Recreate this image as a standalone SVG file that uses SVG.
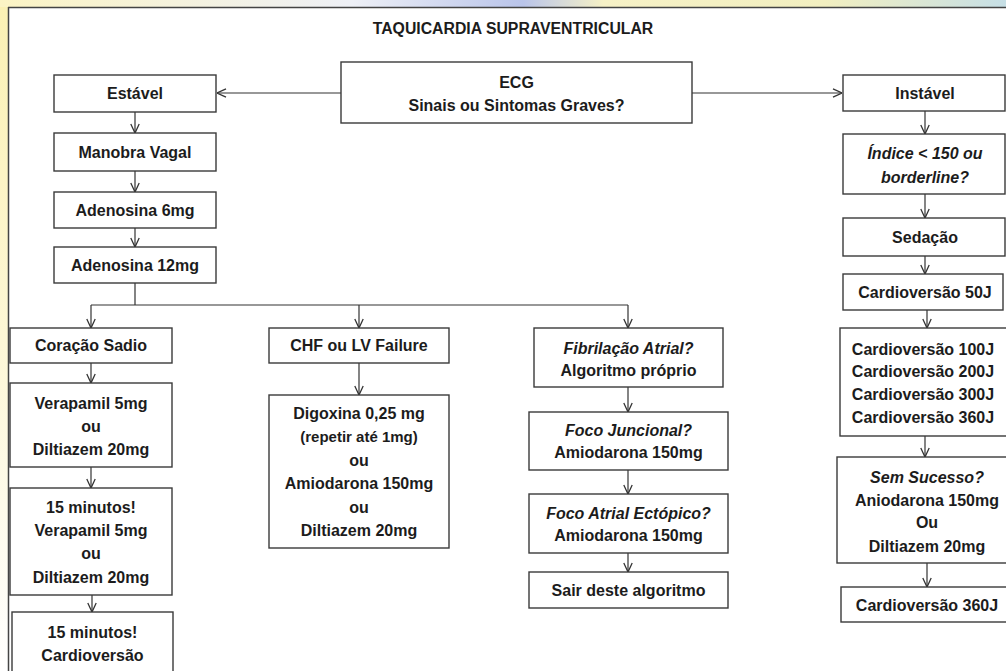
<svg xmlns="http://www.w3.org/2000/svg" width="1006" height="671" viewBox="0 0 1006 671">
<defs>
<linearGradient id="topbg" x1="0" y1="0" x2="1" y2="0">
<stop offset="0" stop-color="#fcf4c4"/>
<stop offset="0.35" stop-color="#eef0f6"/>
<stop offset="0.52" stop-color="#b9c4ea"/>
<stop offset="0.6" stop-color="#f6f1c6"/>
<stop offset="0.82" stop-color="#f2efc0"/>
<stop offset="1" stop-color="#c6dfe6"/>
</linearGradient>
<linearGradient id="leftbg" x1="0" y1="0" x2="0" y2="1">
<stop offset="0" stop-color="#fbf1b4"/>
<stop offset="0.5" stop-color="#fdf7d6"/>
<stop offset="1" stop-color="#ffffff"/>
</linearGradient>
<marker id="ah" viewBox="0 0 10 10" refX="10" refY="5" markerWidth="10" markerHeight="10" markerUnits="userSpaceOnUse" orient="auto">
<path d="M1,0.8 L10,5 L1,9.2" fill="none" stroke="#333" stroke-width="1.3"/>
</marker>
</defs>
<style>
.box{fill:#fff;stroke:#3a3a3a;stroke-width:1.4}
.t{font-family:"Liberation Sans",Arial,sans-serif;font-size:16px;font-weight:bold;fill:#1c1c1c;text-anchor:middle}
.i{font-style:italic}
.c{fill:none;stroke:#333;stroke-width:1.2}
.ca{fill:none;stroke:#333;stroke-width:1.2;marker-end:url(#ah)}
</style>
<rect x="0" y="0" width="1006" height="671" fill="#fff"/>
<rect x="0" y="0" width="1006" height="7" fill="url(#topbg)"/>
<rect x="0" y="7" width="8" height="664" fill="url(#leftbg)"/>
<path d="M8,7.5 H1006 M8.5,7 V671" fill="none" stroke="#444" stroke-width="1.5"/>
<text class="t" x="513" y="34" style="font-size:15.8px">TAQUICARDIA SUPRAVENTRICULAR</text>

<g id="connectors">
<path class="ca" d="M341,93 H217"/>
<path class="ca" d="M692,93 H842"/>
<path class="ca" d="M135,112 V133"/>
<path class="ca" d="M135,171 V192"/>
<path class="ca" d="M135,228 V247"/>
<path class="c" d="M135,283 V305 M91,305 H628"/>
<path class="ca" d="M91,305 V328"/>
<path class="ca" d="M359,305 V328"/>
<path class="ca" d="M628,305 V328"/>
<path class="ca" d="M91,363 V383"/>
<path class="ca" d="M91,467 V488"/>
<path class="ca" d="M92,595 V612"/>
<path class="ca" d="M359,363 V395"/>
<path class="ca" d="M628,387 V412"/>
<path class="ca" d="M628,470 V494"/>
<path class="ca" d="M628,553 V572"/>
<path class="ca" d="M925,111 V134"/>
<path class="ca" d="M925,194 V218"/>
<path class="ca" d="M925,256 V274"/>
<path class="ca" d="M927,310 V328"/>
<path class="ca" d="M925,436 V457"/>
<path class="ca" d="M927,563 V587"/>
</g>

<g id="ecg"><rect class="box" x="341" y="62" width="351" height="61"/>
<text class="t" x="516.5" y="88">ECG</text>
<text class="t" x="516.5" y="111">Sinais ou Sintomas Graves?</text></g>

<g id="estavel"><rect class="box" x="54" y="75" width="162" height="37"/>
<text class="t" x="135" y="99">Estável</text></g>
<g id="manobra"><rect class="box" x="54" y="133" width="162" height="38"/>
<text class="t" x="135" y="158">Manobra Vagal</text></g>
<g id="aden6"><rect class="box" x="54" y="192" width="162" height="36"/>
<text class="t" x="135" y="216">Adenosina 6mg</text></g>
<g id="aden12"><rect class="box" x="54" y="247" width="162" height="36"/>
<text class="t" x="135" y="271">Adenosina 12mg</text></g>

<g id="sadio"><rect class="box" x="10" y="328" width="162" height="35"/>
<text class="t" x="91" y="351">Coração Sadio</text></g>
<g id="verapamil"><rect class="box" x="10" y="383" width="162" height="84"/>
<text class="t" x="91" y="409">Verapamil 5mg</text>
<text class="t" x="91" y="432">ou</text>
<text class="t" x="91" y="455">Diltiazem 20mg</text></g>
<g id="min15a"><rect class="box" x="10" y="488" width="162" height="107"/>
<text class="t" x="91" y="513">15 minutos!</text>
<text class="t" x="91" y="536">Verapamil 5mg</text>
<text class="t" x="91" y="559">ou</text>
<text class="t" x="91" y="583">Diltiazem 20mg</text></g>
<g id="min15b"><rect class="box" x="12" y="612" width="161" height="70"/>
<text class="t" x="92.5" y="638">15 minutos!</text>
<text class="t" x="92.5" y="661">Cardioversão</text></g>

<g id="chf"><rect class="box" x="269" y="328" width="180" height="35"/>
<text class="t" x="359" y="351">CHF ou LV Failure</text></g>
<g id="digoxina"><rect class="box" x="269" y="395" width="180" height="153"/>
<text class="t" x="359" y="419">Digoxina 0,25 mg</text>
<text class="t" x="359" y="442" style="font-size:15px">(repetir até 1mg)</text>
<text class="t" x="359" y="466">ou</text>
<text class="t" x="359" y="489">Amiodarona 150mg</text>
<text class="t" x="359" y="513">ou</text>
<text class="t" x="359" y="536">Diltiazem 20mg</text></g>

<g id="fibrilacao"><rect class="box" x="534" y="328" width="189" height="59"/>
<text class="t i" x="628.5" y="354">Fibrilação Atrial?</text>
<text class="t" x="628.5" y="376">Algoritmo próprio</text></g>
<g id="juncional"><rect class="box" x="529" y="412" width="199" height="58"/>
<text class="t i" x="628.5" y="436">Foco Juncional?</text>
<text class="t" x="628.5" y="458">Amiodarona 150mg</text></g>
<g id="ectopico"><rect class="box" x="529" y="494" width="199" height="59"/>
<text class="t i" x="628.5" y="519">Foco Atrial Ectópico?</text>
<text class="t" x="628.5" y="541">Amiodarona 150mg</text></g>
<g id="sair"><rect class="box" x="529" y="572" width="199" height="36"/>
<text class="t" x="628.5" y="596">Sair deste algoritmo</text></g>

<g id="instavel"><rect class="box" x="843" y="75" width="162" height="36"/>
<text class="t" x="925" y="99">Instável</text></g>
<g id="indice"><rect class="box" x="843" y="134" width="162" height="60"/>
<text class="t i" x="925" y="159">Índice &lt; 150 ou</text>
<text class="t i" x="925" y="183">borderline?</text></g>
<g id="sedacao"><rect class="box" x="843" y="218" width="162" height="38"/>
<text class="t" x="925" y="243">Sedação</text></g>
<g id="cardio50"><rect class="box" x="843" y="274" width="160" height="36"/>
<text class="t" x="925" y="298">Cardioversão 50J</text></g>
<g id="cardio100"><rect class="box" x="840" y="328" width="170" height="108"/>
<text class="t" x="923" y="355">Cardioversão 100J</text>
<text class="t" x="923" y="377">Cardioversão 200J</text>
<text class="t" x="923" y="400">Cardioversão 300J</text>
<text class="t" x="923" y="423">Cardioversão 360J</text></g>
<g id="semsucesso"><rect class="box" x="837" y="457" width="173" height="106"/>
<text class="t i" x="927" y="483">Sem Sucesso?</text>
<text class="t" x="927" y="506">Aniodarona 150mg</text>
<text class="t" x="927" y="528">Ou</text>
<text class="t" x="927" y="552">Diltiazem 20mg</text></g>
<g id="cardio360"><rect class="box" x="841" y="587" width="169" height="35"/>
<text class="t" x="927" y="611">Cardioversão 360J</text></g>
</svg>
